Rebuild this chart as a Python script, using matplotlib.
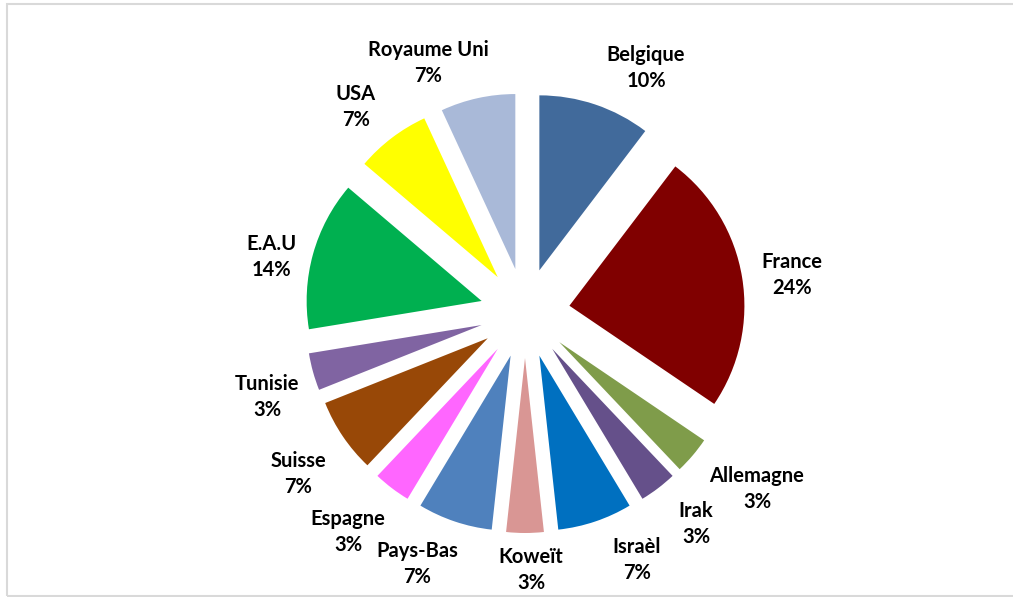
import matplotlib.pyplot as plt
from matplotlib.patches import Rectangle

# nombre de citations par pays (29 au total)
countries = ['Belgique', 'France', 'Allemagne', 'Irak', 'Israèl', 'Koweït', 'Pays-Bas',
             'Espagne', 'Suisse', 'Tunisie', 'E.A.U', 'USA', 'Royaume Uni']
counts = [3, 7, 1, 1, 2, 1, 2, 1, 2, 1, 4, 2, 2]
colors = ['#416A9B', '#800000', '#7F9C4A', '#65508A', '#0070C0', '#D99694', '#4F81BD',
          '#FF66FF', '#984807', '#8064A2', '#00B050', '#FFFF00', '#A9B9D8']

# label centres in pixels (x, y from top), placed by hand like Excel did
label_xy = [(646, 68), (792, 275), (757, 489), (696, 524), (637, 560), (531, 570),
            (417, 564), (348, 532), (298, 474), (267, 397), (271, 257), (356, 107),
            (428, 63)]

W, H = 1013, 597
fig = plt.figure(figsize=(W / 100, H / 100), dpi=100)
ax = fig.add_axes([0, 0, 1, 1])

R = 175
# explode is in data units here (pixels)
ax.pie(counts, colors=colors, startangle=90, counterclock=False,
       explode=[45] * len(counts), radius=R, center=(525, H - 313),
       wedgeprops=dict(linewidth=0))

total = sum(counts)
for name, c, (x, y) in zip(countries, counts, label_xy):
    ax.text(x, H - y, '%s\n%d%%' % (name, round(c / total * 100)),
            ha='center', va='center', fontsize=14.5, fontweight='bold',
            family='Lato', linespacing=1.35, color='black')

ax.add_patch(Rectangle((7, 1), W, H - 4.5, fill=False, edgecolor='#D9D9D9', linewidth=1.5))

ax.set_xlim(0, W)
ax.set_ylim(0, H)
ax.set_aspect('equal')
ax.axis('off')
fig.savefig('out.png', dpi=100)
